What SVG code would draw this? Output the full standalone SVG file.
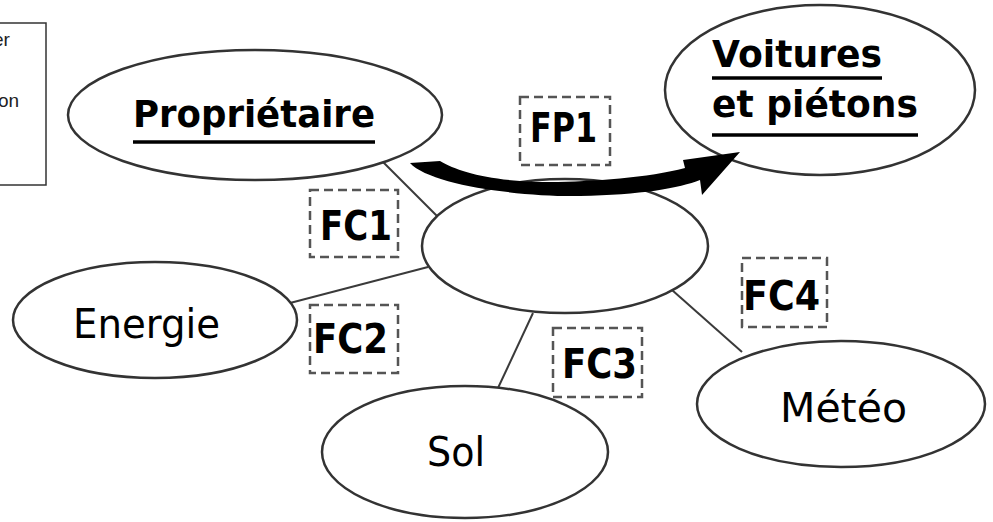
<svg xmlns="http://www.w3.org/2000/svg" width="993" height="522" viewBox="0 0 993 522">
<style>
  .node { fill: #ffffff; stroke: #333333; stroke-width: 2.5; }
  .conn { stroke: #3a3a3a; stroke-width: 2; fill: none; }
  .dash { fill: none; stroke: #555555; stroke-width: 2.5; stroke-dasharray: 9 5; }
  .lb { font-family: "DejaVu Sans", "Liberation Sans", sans-serif; font-weight: bold; font-size: 38px; fill: #000; }
  .fc { font-family: "DejaVu Sans", "Liberation Sans", sans-serif; font-weight: bold; font-size: 40px; fill: #000; }
  .lr { font-family: "DejaVu Sans", "Liberation Sans", sans-serif; font-size: 40px; fill: #000; }
  .ul { stroke: #000; stroke-width: 3.5; }
  .side { font-family: "Liberation Sans", Arial, sans-serif; font-size: 19px; fill: #222; }
</style>
<rect width="993" height="522" fill="#ffffff"/>

<g id="side-box">
  <rect x="-3" y="23" width="49" height="162" fill="none" stroke="#333" stroke-width="1.5"/>
  <text class="side" x="-7" y="46">er</text>
  <text class="side" x="-2" y="107">on</text>
</g>

<g id="connectors">
  <line class="conn" x1="383" y1="162" x2="437" y2="216"/>
  <line class="conn" x1="290" y1="303" x2="428" y2="267"/>
  <line class="conn" x1="498" y1="388" x2="533" y2="313"/>
  <line class="conn" x1="672" y1="290" x2="742" y2="352"/>
</g>

<g id="node-proprietaire">
  <ellipse class="node" cx="255" cy="115" rx="187" ry="65"/>
  <text class="lb" x="133" y="127" textLength="242" lengthAdjust="spacingAndGlyphs">Propriétaire</text>
  <line class="ul" x1="133" y1="142" x2="375" y2="142"/>
</g>

<g id="node-voitures">
  <ellipse class="node" cx="820" cy="90" rx="155" ry="85"/>
  <text class="lb" x="712" y="67" textLength="170" lengthAdjust="spacingAndGlyphs">Voitures</text>
  <line class="ul" x1="712" y1="78" x2="882" y2="78"/>
  <text class="lb" x="712" y="117" textLength="206" lengthAdjust="spacingAndGlyphs">et piétons</text>
  <line class="ul" x1="712" y1="135" x2="918" y2="135"/>
</g>

<g id="node-centre">
  <ellipse class="node" cx="565" cy="246" rx="143" ry="67"/>
</g>

<g id="node-energie">
  <ellipse class="node" cx="155" cy="320" rx="142" ry="58"/>
  <text class="lr" x="73" y="338" textLength="147" lengthAdjust="spacingAndGlyphs">Energie</text>
</g>

<g id="node-sol">
  <ellipse class="node" cx="465" cy="452" rx="143" ry="66"/>
  <text class="lr" x="427" y="466" textLength="58" lengthAdjust="spacingAndGlyphs">Sol</text>
</g>

<g id="node-meteo">
  <ellipse class="node" cx="841" cy="404" rx="144" ry="63"/>
  <text class="lr" x="780" y="422" textLength="127" lengthAdjust="spacingAndGlyphs">Météo</text>
</g>

<g id="label-fp1">
  <rect class="dash" x="520" y="97" width="90" height="68"/>
  <text class="fc" x="530" y="142" textLength="67" lengthAdjust="spacingAndGlyphs">FP1</text>
</g>
<g id="label-fc1">
  <rect class="dash" x="310" y="190" width="88" height="67"/>
  <text class="fc" x="320" y="240" textLength="72" lengthAdjust="spacingAndGlyphs">FC1</text>
</g>
<g id="label-fc2">
  <rect class="dash" x="310" y="305" width="88" height="68"/>
  <text class="fc" x="313" y="353" textLength="75" lengthAdjust="spacingAndGlyphs">FC2</text>
</g>
<g id="label-fc3">
  <rect class="dash" x="553" y="328" width="89" height="69"/>
  <text class="fc" x="562" y="378" textLength="75" lengthAdjust="spacingAndGlyphs">FC3</text>
</g>
<g id="label-fc4">
  <rect class="dash" x="742" y="258" width="85" height="69"/>
  <text class="fc" x="743" y="310" textLength="77" lengthAdjust="spacingAndGlyphs">FC4</text>
</g>

<g id="connector-fp1">
  <path fill="#000" d="M 410 163 C 430 185 520 197 580 196 C 640 195 680 188 700 180 L 702 195 L 740 152 L 683 160 L 685 168 C 640 180 560 184 520 181 C 480 178 455 170 440 161 Z"/>
</g>
</svg>
